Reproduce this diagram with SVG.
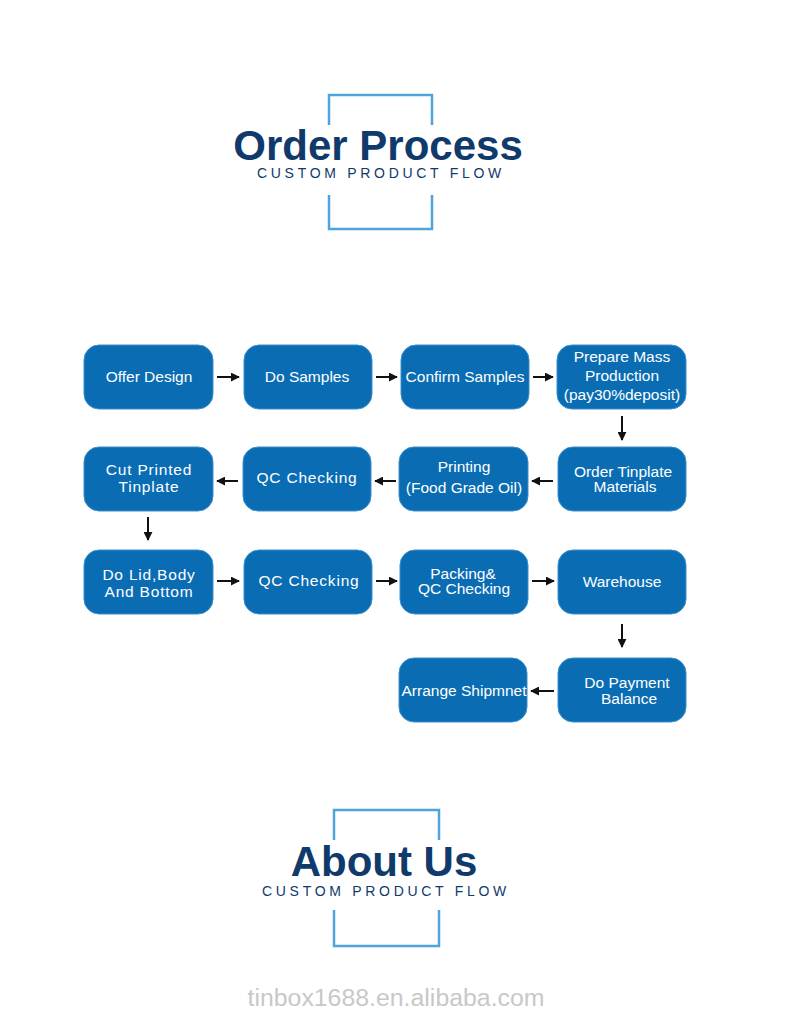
<svg xmlns="http://www.w3.org/2000/svg" width="790" height="1017" viewBox="0 0 790 1017">
<defs>
<style>
.frame{fill:none;stroke:#4ea5dc;stroke-width:2.5}
.title{font-family:"Liberation Sans",Arial,sans-serif;font-weight:bold;fill:#0f3a6b}
.sub{font-family:"Liberation Sans",Arial,sans-serif;font-size:14px;fill:#0f3a6b;letter-spacing:3.7px}
.box{fill:#0a6db4;stroke:#3a8fcc;stroke-width:1}
.lbl{font-family:"Liberation Sans",Arial,sans-serif;font-size:15.5px;fill:#ffffff;text-anchor:middle}
.wide{letter-spacing:0.8px}
.conn line{stroke:#111;stroke-width:2;marker-end:url(#ah)}
</style>
<marker id="ah" viewBox="0 0 10 10" refX="9" refY="5" markerWidth="4.5" markerHeight="4.5" orient="auto" markerUnits="strokeWidth">
<path d="M0,0 L10,5 L0,10 z" fill="#111"/>
</marker>
</defs>
<rect width="790" height="1017" fill="#ffffff"/>

<g id="header">
<path class="frame" d="M329,125 V95 H432 V125 M329,195 V229 H432 V195"/>
<text class="title" x="378" y="160" font-size="42" text-anchor="middle">Order Process</text>
<text class="sub" x="257" y="178">CUSTOM PRODUCT FLOW</text>
</g>

<g id="n1"><rect class="box" x="84" y="345" width="129" height="64" rx="15"/><text class="lbl" x="149" y="382">Offer Design</text></g>
<g id="n2"><rect class="box" x="244" y="345" width="128" height="64" rx="15"/><text class="lbl" x="307" y="382">Do Samples</text></g>
<g id="n3"><rect class="box" x="401" y="345" width="128" height="64" rx="15"/><text class="lbl" x="465" y="382">Confirm Samples</text></g>
<g id="n4"><rect class="box" x="557" y="345" width="129" height="64" rx="15"/><text class="lbl" x="622" y="362">Prepare Mass</text><text class="lbl" x="622" y="381">Production</text><text class="lbl" x="622" y="400">(pay30%deposit)</text></g>

<g id="n5"><rect class="box" x="558" y="447" width="128" height="64" rx="15"/><text class="lbl" x="623" y="477">Order Tinplate</text><text class="lbl" x="625" y="492">Materials</text></g>
<g id="n6"><rect class="box" x="399" y="447" width="129" height="64" rx="15"/><text class="lbl" x="464" y="472">Printing</text><text class="lbl" x="464" y="493">(Food Grade Oil)</text></g>
<g id="n7"><rect class="box" x="243" y="447" width="128" height="64" rx="15"/><text class="lbl wide" x="307" y="483">QC Checking</text></g>
<g id="n8"><rect class="box" x="84" y="447" width="129" height="64" rx="15"/><text class="lbl wide" x="149" y="475">Cut Printed</text><text class="lbl wide" x="149" y="492">Tinplate</text></g>

<g id="n9"><rect class="box" x="84" y="550" width="129" height="64" rx="15"/><text class="lbl wide" x="149" y="580">Do Lid,Body</text><text class="lbl wide" x="149" y="597">And Bottom</text></g>
<g id="n10"><rect class="box" x="244" y="550" width="128" height="64" rx="15"/><text class="lbl wide" x="309" y="586">QC Checking</text></g>
<g id="n11"><rect class="box" x="400" y="550" width="128" height="64" rx="15"/><text class="lbl" x="463" y="579">Packing&amp;</text><text class="lbl" x="464" y="594">QC Checking</text></g>
<g id="n12"><rect class="box" x="558" y="550" width="128" height="64" rx="15"/><text class="lbl" x="622" y="587">Warehouse</text></g>

<g id="n13"><rect class="box" x="558" y="658" width="128" height="64" rx="15"/><text class="lbl" x="627" y="688">Do Payment</text><text class="lbl" x="629" y="704">Balance</text></g>
<g id="n14"><rect class="box" x="399" y="658" width="128" height="64" rx="15"/><text class="lbl" x="464" y="696" font-size="15">Arrange Shipmnet</text></g>

<g class="conn" id="connectors">
<line x1="217" y1="377" x2="239" y2="377"/>
<line x1="376" y1="377" x2="397" y2="377"/>
<line x1="533" y1="377" x2="553" y2="377"/>
<line x1="622" y1="416" x2="622" y2="440"/>
<line x1="553" y1="481" x2="532" y2="481"/>
<line x1="396" y1="481" x2="375" y2="481"/>
<line x1="238" y1="481" x2="217" y2="481"/>
<line x1="148" y1="517" x2="148" y2="540"/>
<line x1="217" y1="581" x2="239" y2="581"/>
<line x1="376" y1="581" x2="397" y2="581"/>
<line x1="532" y1="581" x2="554" y2="581"/>
<line x1="622" y1="624" x2="622" y2="647"/>
<line x1="554" y1="691" x2="531" y2="691"/>
</g>

<g id="footer">
<path class="frame" d="M334,840 V810 H439 V840 M334,910 V946 H439 V910"/>
<text class="title" x="384" y="876" font-size="42" text-anchor="middle">About Us</text>
<text class="sub" x="262" y="896">CUSTOM PRODUCT FLOW</text>
<text x="396" y="1006" font-family="Liberation Sans,Arial,sans-serif" font-size="23" fill="#c8c8c8" text-anchor="middle" textLength="297" lengthAdjust="spacingAndGlyphs">tinbox1688.en.alibaba.com</text>
</g>
</svg>
